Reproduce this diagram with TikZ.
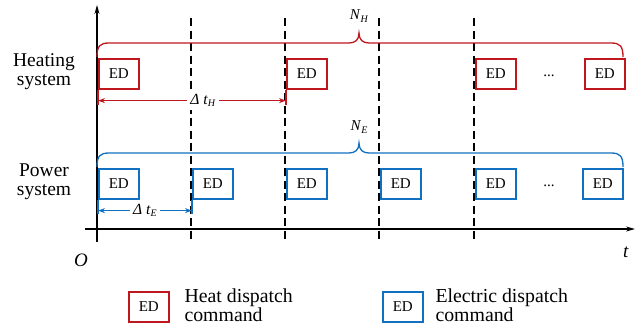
\documentclass[tikz,border=0pt]{standalone}
\usepackage{fontspec}
\setmainfont{Liberation Serif}
\usetikzlibrary{arrows.meta}
\definecolor{heatred}{RGB}{192,22,30}
\definecolor{elecblue}{RGB}{18,112,192}
\tikzset{
  edbox/.style={draw, line width=1.6pt, minimum width=40pt, minimum height=30pt,
    inner sep=0pt, anchor=north west, font=\fontsize{15}{15}\selectfont},
  sysname/.style={align=center, font=\fontsize{19.5}{19}\selectfont},
  cut/.style={dash pattern=on 8pt off 4.5pt, line width=1.2pt},
  brace/.style={line width=1.3pt},
  span/.style={line width=1.2pt, {Stealth[length=7pt,width=5pt]}-{Stealth[length=7pt,width=5pt]}}
}
\newcommand{\sub}[1]{\raisebox{-0.35ex}{\fontsize{10}{10}\selectfont\textit{#1}}}
\begin{document}
\begin{tikzpicture}[x=1pt,y=-1pt]
	\useasboundingbox (0,0) rectangle (644,330);
	% axes
	\draw[line width=1.1pt,-{Stealth[length=9pt,width=5pt]}] (97,242) -- (97,5);
	\draw[line width=1.1pt,-{Stealth[length=9pt,width=5pt]}] (85,229) -- (635,229);
	\node at (81,260) {\fontsize{19}{19}\selectfont\textit{O}};
	\node at (626,252) {\fontsize{19}{19}\selectfont\textit{t}};
	\foreach \x in {191,285,379,474} {
		\draw[cut] (\x,18) -- (\x,240);
	}
	% system names
	\node[sysname] (heat) at (44,72) {Heating\\system};
	\node[sysname] (power) at (44,182) {Power\\system};
	% heating system
	\draw[heatred,brace] (97,57) .. controls (97,46) and (100,43) .. (109,43) -- (349,43)
		.. controls (355,43) and (359,40) .. (359,33) .. controls (359,40) and (363,43) .. (369,43)
		-- (611,43) .. controls (620,43) and (623,46) .. (623,57);
	\node at (359,16) {\fontsize{15}{15}\selectfont\textit{N}\sub{H}};
	\foreach \x/\n in {98/1,286/2,475/3,584/4} {
		\node[edbox,heatred] (h\n) at (\x,58) {\textcolor{black}{ED}};
	}
	\node at (549,76) {\fontsize{15}{15}\selectfont ...};
	\coordinate (dh) at (0,105);
	\draw[heatred,line width=1.6pt] (h1.south west) -- (h1.south west |- dh);
	\draw[heatred,line width=1.6pt] (h2.south west) -- (h2.south west |- dh);
	\draw[heatred,span] ([yshift=-11pt]h1.south west) -- node[fill=white,inner sep=3pt,text=black,xshift=11pt]
		{\fontsize{15.5}{15}\selectfont\textit{Δ t}\sub{H}} ([yshift=-11pt]h2.south west);
	% power system
	\draw[elecblue,brace] (97,167) .. controls (97,156) and (100,153) .. (109,153) -- (349,153)
		.. controls (355,153) and (359,150) .. (359,143) .. controls (359,150) and (363,153) .. (369,153)
		-- (611,153) .. controls (620,153) and (623,156) .. (623,167);
	\node at (359,127) {\fontsize{15}{15}\selectfont\textit{N}\sub{E}};
	\foreach \x/\n in {98/1,192/2,286/3,380/4,475/5,582/6} {
		\node[edbox,elecblue] (e\n) at (\x,168) {\textcolor{black}{ED}};
	}
	\node at (549,186) {\fontsize{15}{15}\selectfont ...};
	\coordinate (de) at (0,214);
	\draw[elecblue,line width=1.6pt] (e1.south west) -- (e1.south west |- de);
	\draw[elecblue,line width=1.6pt] (e2.south west) -- (e2.south west |- de);
	\draw[elecblue,span] ([yshift=-11pt]e1.south west) -- node[fill=white,inner sep=3pt,text=black]
		{\fontsize{15.5}{15}\selectfont\textit{Δ t}\sub{E}} ([yshift=-11pt]e2.south west);
	% legend
	\node[edbox,heatred] (lh) at (128,291) {\textcolor{black}{ED}};
	\node[anchor=west,align=left,font=\fontsize{19.8}{19}\selectfont] at (181,305) {Heat dispatch\\command};
	\node[edbox,elecblue] (le) at (382,291) {\textcolor{black}{ED}};
	\node[anchor=west,align=left,font=\fontsize{19.8}{19}\selectfont] at (432,305) {Electric dispatch\\command};
\end{tikzpicture}
\end{document}
